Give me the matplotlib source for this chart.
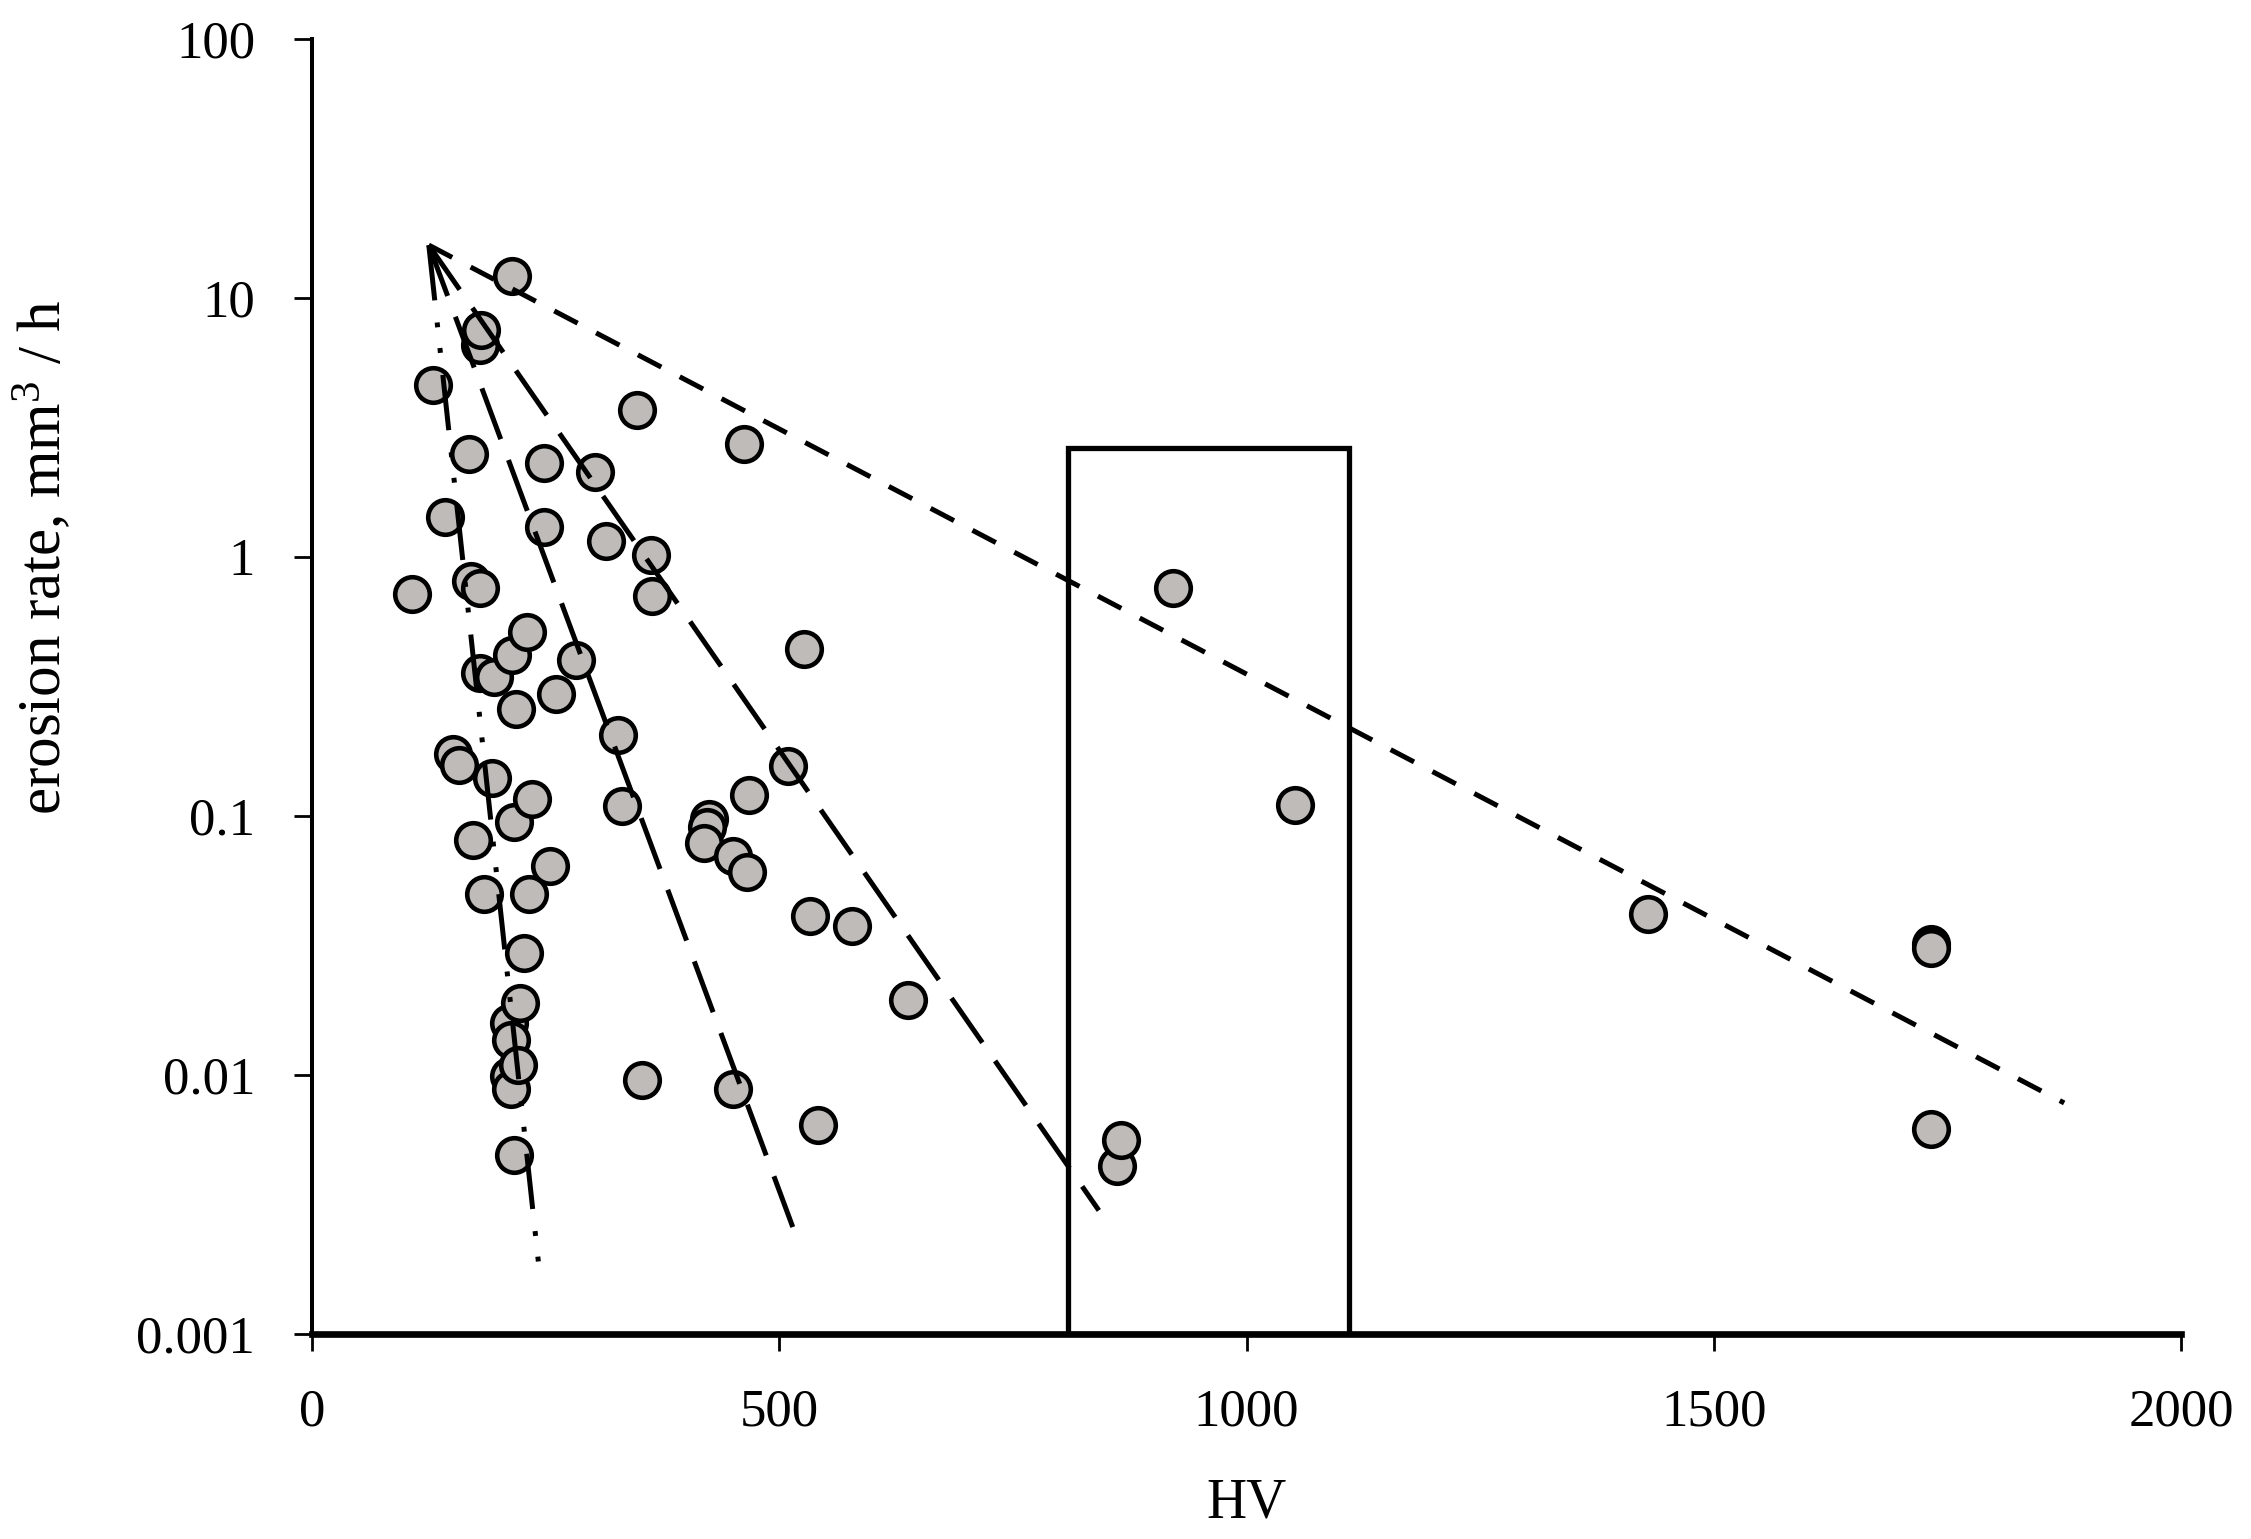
import matplotlib
matplotlib.use("Agg")
import matplotlib.pyplot as plt
from matplotlib.ticker import FixedLocator, FixedFormatter, NullLocator

plt.rcParams['font.family'] = ['Liberation Serif', 'DejaVu Serif']
plt.rcParams['mathtext.default'] = 'regular'
plt.rcParams['mathtext.fontset'] = 'custom'
plt.rcParams['mathtext.rm'] = 'Liberation Serif'
plt.rcParams['lines.scale_dashes'] = False

# ---- data ----
hv = [107, 129.5, 142, 150.5, 157, 167.5, 170, 172, 180, 181, 180, 180, 184.5,
      195, 193, 210.8, 210.8, 213, 212.6, 214, 214, 216, 218, 216, 222.6, 220.4,
      227, 230, 232, 235, 248, 248, 254.5, 261, 282, 303, 314.5, 327.5, 332, 348,
      353, 363, 364, 425, 423, 419, 451, 465, 450, 462, 467.5, 509.5, 526, 533,
      541, 578, 638, 861, 866, 921, 1052, 1430, 1732, 1732, 1732]
rate = [0.72, 4.6, 1.43, 0.173, 0.158, 2.5, 0.81, 0.081, 6.6, 7.5, 0.76, 0.356, 0.050,
        0.344, 0.140, 0.0159, 0.0099, 0.0088, 0.0137, 12.2, 0.42, 0.095, 0.26, 0.0049,
        0.0189, 0.0109, 0.0297, 0.515, 0.050, 0.116, 2.3, 1.31, 0.064, 0.297, 0.40,
        2.12, 1.15, 0.205, 0.109, 3.68, 0.0096, 1.02, 0.71, 0.097, 0.091, 0.079, 0.070,
        0.061, 0.0088, 2.72, 0.121, 0.156, 0.44, 0.041, 0.0064, 0.0376, 0.0195,
        0.00445, 0.0056, 0.76, 0.110, 0.042, 0.032, 0.0308, 0.0062]

# trend lines: start/end HV and rate
trend_dashdot_hv = [125, 244]
trend_dashdot_rate = [16, 0.00166]
trend_steep_hv = [125, 516]
trend_steep_rate = [16, 0.0025]
trend_mid_hv = [125, 842]
trend_mid_rate = [16, 0.0030]
trend_flat_hv = [125, 1875]
trend_flat_rate = [16, 0.0078]

# highlighted HV range box
box_hv = [809, 1110]
box_top = 2.64

x_ticks = [0, 500, 1000, 1500, 2000]
x_ticklabels = ['0', '500', '1000', '1500', '2000']
y_ticks = [0.001, 0.01, 0.1, 1, 10, 100]
y_ticklabels = ['0.001', '0.01', '0.1', '1', '10', '100']

# ---- figure ----
W, H = 2251, 1539
fig = plt.figure(figsize=(W / 100, H / 100), dpi=100)
ax = fig.add_axes([312 / W, (H - 1334) / H, (2181 - 312) / W, (1334 - 39) / H])

ax.set_yscale('log')
ax.set_xlim(0, 2000)
ax.set_ylim(0.001, 100)

ax.scatter(hv, rate, s=620, facecolor='#bebbb9', edgecolor='black',
           linewidth=3.3, zorder=2)

lw = 3.6
ax.plot(trend_dashdot_hv, trend_dashdot_rate, color='black', lw=lw,
        linestyle=(0, (40, 16, 3.5, 15, 3.5, 16)), zorder=3)
ax.plot(trend_steep_hv, trend_steep_rate, color='black', lw=lw,
        linestyle=(0, (39, 16)), zorder=3)
ax.plot(trend_mid_hv, trend_mid_rate, color='black', lw=lw,
        linestyle=(0, (39, 16)), zorder=3)
ax.plot(trend_flat_hv, trend_flat_rate, color='black', lw=lw,
        linestyle=(0, (19, 15)), zorder=3)

ax.bar((box_hv[0] + box_hv[1]) / 2, box_top - 0.001, width=box_hv[1] - box_hv[0],
       bottom=0.001, fill=False, edgecolor='black', linewidth=3.8, zorder=3)

for s in ['top', 'right']:
    ax.spines[s].set_visible(False)
ax.spines['left'].set_linewidth(2.9)
ax.spines['bottom'].set_linewidth(4.8)
ax.spines['bottom'].set_zorder(4)

ax.xaxis.set_major_locator(FixedLocator(x_ticks))
ax.xaxis.set_major_formatter(FixedFormatter(x_ticklabels))
ax.yaxis.set_major_locator(FixedLocator(y_ticks))
ax.yaxis.set_major_formatter(FixedFormatter(y_ticklabels))
ax.yaxis.set_minor_locator(NullLocator())
ax.xaxis.set_minor_locator(NullLocator())

ax.tick_params(axis='x', direction='out', length=12, width=2, pad=27, labelsize=38)
ax.tick_params(axis='y', direction='out', length=13, width=2, pad=28, labelsize=38)

fig.text(1246 / W, 22 / H, 'HV', ha='center', va='baseline', fontsize=40)
fig.text(61 / W, (H - 557.5) / H, 'erosion rate, mm$^{3}$ / h', rotation=90,
         rotation_mode='anchor', ha='center', va='baseline', fontsize=44)

fig.savefig('out.png', dpi=100)
